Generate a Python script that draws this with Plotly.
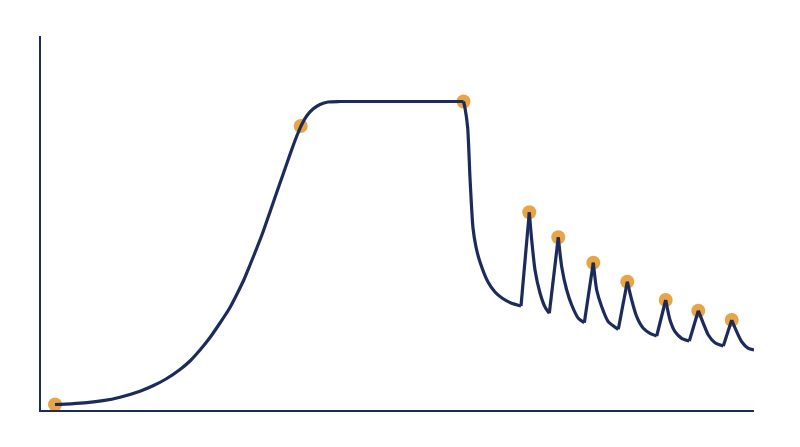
import plotly.graph_objects as go

# Concentration-like curve (arbitrary units)
curve_x = [14, 30, 46, 62, 79, 99, 112, 125, 139, 149, 159, 169, 179, 189, 196, 203, 209, 216, 222, 230,
           239, 246, 252, 257, 261, 266, 272, 279, 287, 299, 422.5, 424, 426.7, 429, 432, 435, 439, 447,
           454, 461, 470, 480, 488.3, 490.7, 494, 499, 504, 508.3, 517.3, 520.7, 525.7, 530.7, 537.3,
           543.3, 552.3, 555.7, 560.7, 567.3, 577.3, 586.3, 590.7, 595.7, 602.3, 609, 615.7, 624.7, 629,
           634, 640.7, 648.3, 657.3, 662.3, 667.3, 674, 682.3, 690.7, 695.7, 700.7, 707.3, 713]
curve_y = [5.5, 6.2, 7.3, 9.3, 12.8, 18.8, 24.2, 31, 40.5, 49, 60, 72.5, 87, 102.5, 116, 130.5, 145, 162.5, 178, 201,
           227, 247, 264, 277, 286, 294.5, 301, 305.5, 308, 308.5, 308.5, 302, 282, 232, 182, 163, 148, 128,
           118, 112, 107, 104, 197.7, 170, 140, 117, 103, 96.7, 172.7, 143.3, 120, 105, 91.7,
           87.3, 147.3, 120, 103.3, 88.3, 80.7, 128.3, 110, 93.3, 81.7, 76.7, 74, 110, 90,
           78.3, 71.7, 69, 99.3, 86.7, 75, 67.3, 64, 90, 78.3, 68.3, 61.7, 60]

# Sharp corners of the curve (dose times and peaks)
corner_x = [422.5, 480, 488.3, 508.3, 517.3, 543.3, 552.3, 577.3, 586.3, 615.7, 624.7,
            648.3, 657.3, 682.3, 690.7]

# Highlighted points
point_x = [14, 259.7, 422.5, 488.3, 517.3, 552.3, 586.3, 624.7, 657.3, 690.7]
point_y = [5.5, 284, 308.5, 197.7, 172.7, 147.3, 128.3, 110, 99.3, 90]

NAVY = "#1c2b5b"
ORANGE = "#e8a545"

fig = go.Figure()
fig.add_trace(go.Scatter(x=point_x, y=point_y, mode="markers",
                         marker=dict(size=14, color=ORANGE, line=dict(width=0)),
                         hoverinfo="skip", cliponaxis=False))

# split the curve at corners; smooth within each piece
cut_idx = [0] + [curve_x.index(c) for c in corner_x] + [len(curve_x) - 1]
for a, b in zip(cut_idx[:-1], cut_idx[1:]):
    xs = curve_x[a:b + 1]
    ys = curve_y[a:b + 1]
    fig.add_trace(go.Scatter(x=xs, y=ys, mode="lines",
                             line=dict(color=NAVY, width=3.2,
                                       shape="spline" if len(xs) > 2 else "linear",
                                       smoothing=0.6),
                             cliponaxis=False, hoverinfo="skip"))

fig.update_layout(
    width=800, height=447,
    margin=dict(l=33, r=54, t=28, b=45),
    paper_bgcolor="white", plot_bgcolor="white",
    showlegend=False,
    xaxis=dict(range=[0, 713], showgrid=False, zeroline=False, showticklabels=False,
               ticks="", showline=True, linecolor=NAVY, linewidth=2),
    yaxis=dict(range=[0, 374], showgrid=False, zeroline=False, showticklabels=False,
               ticks="", showline=True, linecolor=NAVY, linewidth=2),
)

fig.write_html("out.html")
